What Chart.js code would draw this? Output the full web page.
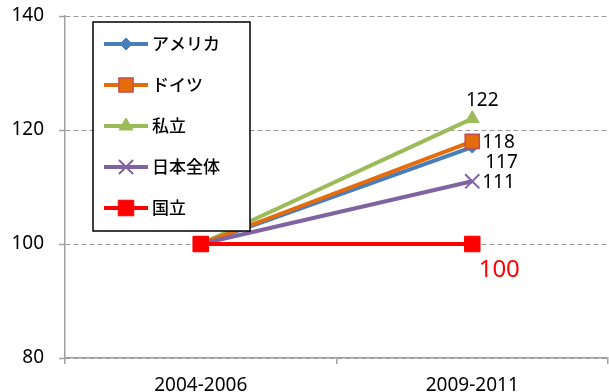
<!DOCTYPE html>
<html>
<head>
<meta charset="utf-8">
<script src="https://cdn.jsdelivr.net/npm/chart.js@4/dist/chart.umd.min.js"></script>
<style>
html,body{margin:0;padding:0;background:#fff;}
#wrap{width:609px;height:392px;position:relative;}
</style>
</head>
<body>
<div id="wrap"><canvas id="c" width="609" height="392"></canvas></div>
<script>
const categories = ["2004-2006", "2009-2011"];
const seriesNames = ["アメリカ", "ドイツ", "私立", "日本全体", "国立"];
const america = [100, 117];
const germany = [100, 118];
const privateU = [100, 122];
const japanAll = [100, 111];
const nationalU = [100, 100];
const yTicks = [80, 100, 120, 140];

const FONT = "'Noto Sans', 'Noto Sans CJK JP', sans-serif";

// label placement styling (offsets from last point)
const labelStyle = [
  {dx: 13, dy: 15, align: 'left', color: '#000', size: 19},
  {dx: 10, dy: 1, align: 'left', color: '#000', size: 19},
  {dx: 10, dy: -18, align: 'center', color: '#000', size: 19},
  {dx: 10, dy: 1, align: 'left', color: '#000', size: 19},
  {dx: 27, dy: 26, align: 'center', color: '#ff0000', size: 24}
];

const datasets = [
  {label: seriesNames[0], data: america, borderColor: '#4a7ebb', backgroundColor: '#4a7ebb', pointStyle: 'rectRot', pointRadius: 6, pointBorderWidth: 1, order: 3},
  {label: seriesNames[1], data: germany, borderColor: '#e46c0a', backgroundColor: '#e46c0a', pointBorderColor: '#c0504d', pointStyle: 'rect', pointRadius: 10, pointBorderWidth: 1.5, order: 2},
  {label: seriesNames[2], data: privateU, borderColor: '#9bbb59', backgroundColor: '#9bbb59', pointStyle: 'triangle', pointRadius: 8, pointBorderWidth: 1, order: 4},
  {label: seriesNames[3], data: japanAll, borderColor: '#8064a2', backgroundColor: '#8064a2', pointStyle: 'crossRot', pointRadius: 10, pointBorderWidth: 2, order: 1},
  {label: seriesNames[4], data: nationalU, borderColor: '#ff0000', backgroundColor: '#ff0000', pointStyle: 'rect', pointRadius: 11, pointBorderWidth: 1, order: 0}
].map(d => Object.assign({borderWidth: 4, tension: 0, fill: false, pointBackgroundColor: d.backgroundColor}, d));

function drawMarker(ctx, ds, x, y) {
  const opts = {pointStyle: ds.pointStyle, radius: ds.pointRadius, borderWidth: ds.pointBorderWidth, rotation: 0};
  ctx.save();
  ctx.fillStyle = ds.pointBackgroundColor;
  ctx.strokeStyle = ds.pointBorderColor || ds.borderColor;
  ctx.lineWidth = ds.pointBorderWidth;
  if (Chart.helpers && Chart.helpers.drawPoint) {
    Chart.helpers.drawPoint(ctx, opts, x, y);
  }
  ctx.restore();
}

const legendPlugin = {
  id: 'boxLegend',
  afterDraw(chart) {
    const ctx = chart.ctx;
    const x0 = 93, y0 = 22, w = 157, h = 209;
    ctx.save();
    ctx.fillStyle = '#fff';
    ctx.fillRect(x0, y0, w, h);
    ctx.strokeStyle = '#000';
    ctx.lineWidth = 1.5;
    ctx.strokeRect(x0, y0, w, h);
    chart.data.datasets.forEach((ds, i) => {
      const y = 44 + i * 41;
      ctx.strokeStyle = ds.borderColor;
      ctx.lineWidth = 4;
      ctx.lineCap = 'butt';
      ctx.beginPath();
      ctx.moveTo(104, y);
      ctx.lineTo(148, y);
      ctx.stroke();
      drawMarker(ctx, ds, 126, y);
      ctx.fillStyle = '#000';
      ctx.font = "500 17px 'Noto Sans CJK JP', sans-serif";
      ctx.textAlign = 'left';
      ctx.textBaseline = 'middle';
      ctx.fillText(ds.label, 152, y);
    });
    ctx.restore();
  }
};

const valueLabelPlugin = {
  id: 'valueLabels',
  afterDatasetsDraw(chart) {
    const ctx = chart.ctx;
    ctx.save();
    chart.data.datasets.forEach((ds, i) => {
      const meta = chart.getDatasetMeta(i);
      const last = ds.data.length - 1;
      const pt = meta.data[last];
      const st = labelStyle[i];
      ctx.fillStyle = st.color;
      ctx.font = st.size + "px " + FONT;
      ctx.textAlign = st.align;
      ctx.textBaseline = 'middle';
      ctx.fillText(String(ds.data[last]), pt.x + st.dx, pt.y + st.dy);
    });
    ctx.restore();
  }
};

new Chart(document.getElementById('c'), {
  type: 'line',
  data: {labels: categories, datasets: datasets},
  options: {
    responsive: false,
    animation: false,
    devicePixelRatio: 1,
    layout: {autoPadding: false, padding: {top: 16, right: 1, left: 0, bottom: 0}},
    plugins: {legend: {display: false}, tooltip: {enabled: false}, title: {display: false}},
    scales: {
      x: {
        offset: true,
        grid: {offset: true, drawOnChartArea: false, drawTicks: true, tickLength: 6, color: '#a0a0a0', lineWidth: 1.5},
        border: {display: true, color: '#a0a0a0', width: 1.5},
        ticks: {color: '#000', font: {family: FONT, size: 19}, padding: 10, maxRotation: 0},
        afterFit(scale) { scale.height = 34; scale.paddingLeft = 0; scale.paddingRight = 0; }
      },
      y: {
        min: yTicks[0],
        max: yTicks[yTicks.length - 1],
        afterBuildTicks(scale) { scale.ticks = yTicks.map(v => ({value: v})); },
        grid: {color: '#9a9a9a', lineWidth: 1, drawTicks: true, tickLength: 6, tickBorderDash: [], tickColor: '#a0a0a0', tickWidth: 1.5},
        border: {display: true, color: '#a0a0a0', width: 1.5, dash: [5, 3]},
        ticks: {color: '#000', font: {family: FONT, size: 19}, padding: 15},
        afterFit(scale) { scale.width = 65; scale.paddingTop = 0; scale.paddingBottom = 0; }
      }
    }
  },
  plugins: [valueLabelPlugin, legendPlugin]
});
</script>
</body>
</html>
